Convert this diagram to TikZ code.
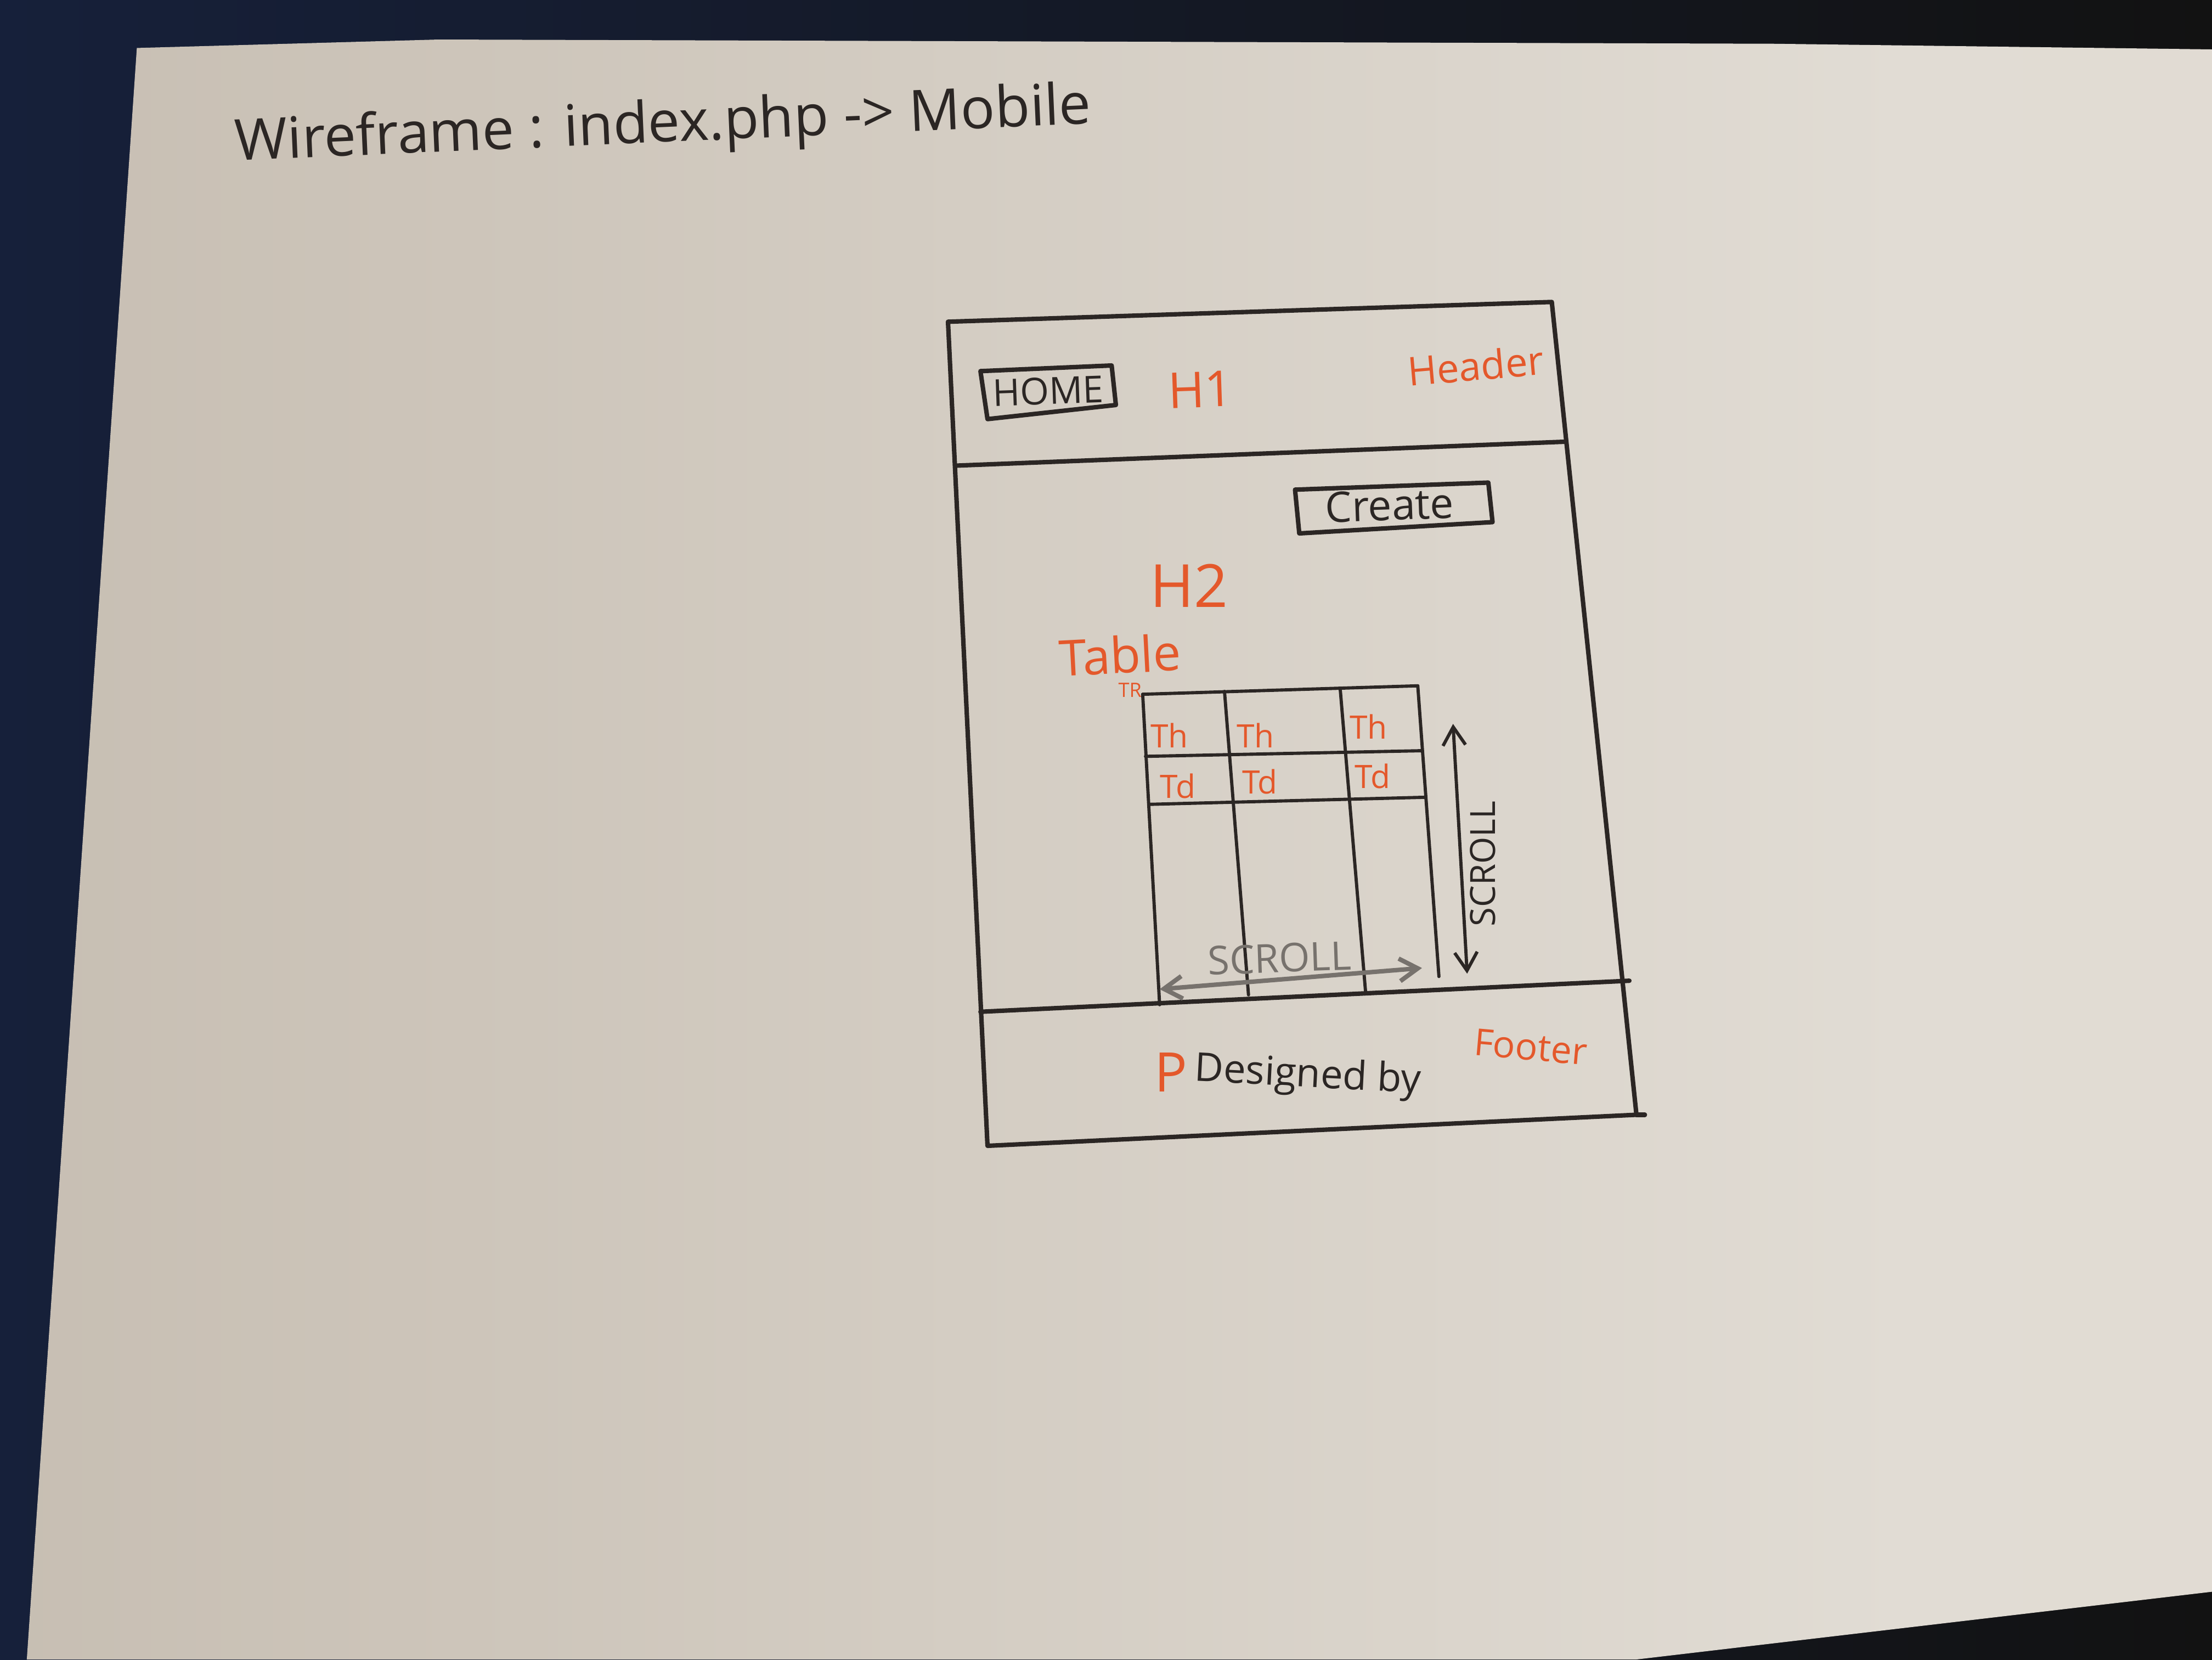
\documentclass[tikz,border=0pt]{standalone}
\usepackage{fontspec}
\setmainfont{Open Sans}
\usetikzlibrary{arrows.meta}

\definecolor{ink}{HTML}{2B2624}
\definecolor{marker}{HTML}{E4582B}
\definecolor{pencil}{HTML}{77726D}
\definecolor{deskNavy}{HTML}{16203A}
\definecolor{deskDark}{HTML}{121212}
\definecolor{paperA}{HTML}{B9AFA2}
\definecolor{paperB}{HTML}{CDC5BA}
\definecolor{paperC}{HTML}{E1DCD4}
\definecolor{paperD}{HTML}{E0D9CE}

\pgfdeclarehorizontalshading{paperlight}{100bp}{%
  color(0bp)=(paperA); color(35bp)=(paperB); color(68bp)=(paperC); color(100bp)=(paperD)}

\tikzset{
  pen/.style={draw=ink, line width=0.9pt, line cap=round, line join=round},
  thinpen/.style={draw=ink, line width=0.65pt, line cap=round, line join=round},
  hand/.style={inner sep=0pt, text=ink},
  red/.style={inner sep=0pt, text=marker},
  barbs/.style={{Straight Barb[length=1.3mm,width=1.6mm]}-{Straight Barb[length=1.3mm,width=1.6mm]}}
}

\begin{document}
\begin{tikzpicture}[x=0.1mm, y=-0.1mm]
\useasboundingbox (0,0) rectangle (1568,1176);

% desk behind the sheet
\shade[left color=deskNavy, right color=deskDark] (0,0) rectangle (1568,1176);

% the sheet of paper
\shade[shading=paperlight]
  (97,34) -- (311,28) -- (1257,31) -- (1568,35) -- (1568,1128)
  -- (1160,1176) -- (19,1176) -- cycle;

% title line
\node[hand, rotate=2.5, font=\fontsize{11.5}{13}\selectfont] (title) at (470,90)
  {Wireframe : index.php -> Mobile};

% phone frame
\coordinate (fTL) at (672,228);
\coordinate (fTR) at (1100,214);
\coordinate (fBR) at (1160,790);
\coordinate (fBL) at (700,812);
\coordinate (hL) at (677,330);
\coordinate (hR) at (1110,313);
\coordinate (ftL) at (695,717);
\coordinate (ftR) at (1155,695);
\coordinate (bE) at (1166,790);
\draw[pen] (fTL) -- (fTR) -- (fBR) -- (fBL) -- cycle;
\draw[pen] (fBR) -- (bE);
\draw[pen] (hL) -- (hR);
\draw[pen] (ftL) -- (ftR);

% header
\draw[pen] (695,263) -- (788,259) -- (791,287) -- (700,297) -- cycle;
\node[hand, rotate=2, font=\fontsize{7.5}{9}\selectfont] (home) at (743,277) {HOME};
\node[red, rotate=2, font=\fontsize{10}{12}\selectfont] (h1) at (851,276) {H1};
\node[red, rotate=5, font=\fontsize{8}{10}\selectfont] (header) at (1046,259) {Header};

% create button
\draw[pen] (918,347) -- (1055,342) -- (1058,370) -- (921,378) -- cycle;
\node[hand, rotate=2, font=\fontsize{8.5}{10}\selectfont] (create) at (985,358) {Create};

% headings
\node[red, font=\fontsize{12}{14}\selectfont] (h2) at (843,415) {H2};
\node[red, rotate=3, font=\fontsize{10}{12}\selectfont] (table) at (794,464) {Table};
\node[red, font=\fontsize{4}{5}\selectfont] (tr) at (801,489) {TR};

% table grid
\coordinate (t1) at (810,492);
\coordinate (t2) at (868,490);
\coordinate (t3) at (950,488);
\coordinate (t4) at (1005,486);
\coordinate (b1) at (822,712);
\coordinate (b2) at (885,705);
\coordinate (b3) at (968,703);
\coordinate (b4) at (1020,692);
\draw[thinpen] (t1) -- (t4);
\draw[thinpen] (t1) -- (b1);
\draw[thinpen] (t2) -- (b2);
\draw[thinpen] (t3) -- (b3);
\draw[thinpen] (t4) -- (b4);
\draw[thinpen] (812,536) -- (1008,532);
\draw[thinpen] (815,570) -- (1010,565);

\node[red, font=\fontsize{6.5}{8}\selectfont] (th1) at (829,521) {Th};
\node[red, font=\fontsize{6.5}{8}\selectfont] (th2) at (890,521) {Th};
\node[red, font=\fontsize{6.5}{8}\selectfont] (th3) at (970,515) {Th};
\node[red, font=\fontsize{6.5}{8}\selectfont] (td1) at (835,557) {Td};
\node[red, font=\fontsize{6.5}{8}\selectfont] (td2) at (893,554) {Td};
\node[red, font=\fontsize{6.5}{8}\selectfont] (td3) at (973,550) {Td};

% scroll hints
\coordinate (vs1) at (1030,513);
\coordinate (vs2) at (1040,690);
\draw[thinpen, barbs] (vs1) -- (vs2);
\node[hand, rotate=90, font=\fontsize{7}{8}\selectfont] (vscroll) at (1051,612) {SCROLL};

\coordinate (hs1) at (822,701);
\coordinate (hs2) at (1008,686);
\draw[draw=pencil, line width=0.9pt, line cap=round, barbs] (hs1) -- (hs2);
\node[inner sep=0pt, text=pencil, rotate=2, font=\fontsize{8}{9}\selectfont] (hscroll) at (907,679) {SCROLL};

% footer
\node[red, font=\fontsize{11}{13}\selectfont] (p) at (830,760) {P};
\node[hand, rotate=-3, font=\fontsize{8}{10}\selectfont] (designed) at (927,763) {Designed by};
\node[red, rotate=-5, font=\fontsize{7.5}{9}\selectfont] (footer) at (1085,742) {Footer};
\end{tikzpicture}
\end{document}
